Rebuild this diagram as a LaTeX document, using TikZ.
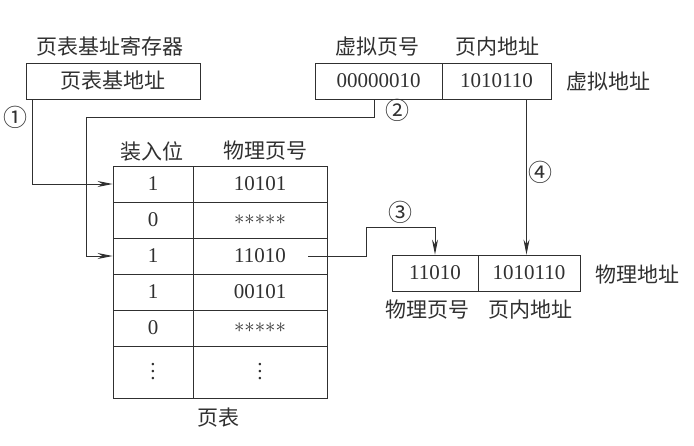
\documentclass[tikz,border=0pt]{standalone}
\usepackage{fontspec}
\setmainfont{Liberation Serif}
\newfontfamily\cjk{Noto Sans CJK SC}
\usetikzlibrary{arrows.meta,positioning}
\newcommand{\maskstars}{\ensuremath{{\ast}{\ast}{\ast}{\ast}{\ast}}}
\newcommand{\moredots}{\vbox{\baselineskip=7pt\lineskiplimit=0pt\hbox{.}\hbox{.}\hbox{.}}}
\definecolor{ptink}{HTML}{303030}
\tikzset{
  cellBox/.style={draw=ptink, line width=0.9pt, minimum height=36pt, inner sep=0pt, text=ptink, font=\fontsize{21}{25}\selectfont},
  capLabel/.style={font=\cjk\fontsize{21}{25}\selectfont, inner sep=1pt, text=ptink},
  stepMark/.style={font=\cjk\fontsize{24}{26}\selectfont, inner sep=0pt, text=ptink},
  flowArrow/.style={-{Stealth[length=15pt,width=6pt]}, line width=0.9pt, draw=ptink},
  flowLine/.style={line width=0.9pt, draw=ptink}
}

\begin{document}
\begin{tikzpicture}[x=1pt,y=-1pt]
  \useasboundingbox (0,0) rectangle (694,445);
  % registers and addresses
  \node[capLabel] (regCap) at (110,46) {页表基址寄存器};
  \node[cellBox, minimum width=174pt] (baseReg) at (113,81) {\cjk 页表基地址};
  \node[cellBox, minimum width=127pt] (vpn) at (378.5,81) {00000010};
  \node[cellBox, minimum width=109pt] (voff) at (496.5,81) {1010110};
  \node[capLabel] (vpnCap) at (377,47) {虚拟页号};
  \node[capLabel] (voffCap) at (497,47) {页内地址};
  \node[capLabel] (vaddrCap) at (608,82) {虚拟地址};
  % page table
  \node[capLabel] (bitHead) at (152,151) {装入位};
  \node[capLabel] (ppnHead) at (265,151) {物理页号};
  \foreach \r/\y/\h/\b/\p in {1/184/36/1/10101, 2/220/36/0/\maskstars, 3/256/36/1/11010, 4/292/36/1/00101, 5/328/36/0/\maskstars, 6/372/52/\moredots/\moredots}{
    \node[cellBox, minimum width=80pt, minimum height=\h pt] (bit\r) at (153,\y) {\b};
    \node[cellBox, minimum width=134pt, minimum height=\h pt] (ppn\r) at (260,\y) {\p};
  }
  \node[capLabel] (tableCap) at (218,418) {页表};
  % physical address
  \node[cellBox, minimum width=86pt] (pfn) at (435,273) {11010};
  \node[cellBox, minimum width=102pt] (poff) at (529,273) {1010110};
  \node[capLabel] (paddrCap) at (637,275) {物理地址};
  \node[capLabel] (pfnCap) at (427,310) {物理页号};
  \node[capLabel] (poffCap) at (530,310) {页内地址};
  % connectors
  \coordinate (bendB) at (86,117);
  \coordinate (bendC) at (366,227);
  \draw[flowArrow] ([xshift=7pt]baseReg.south west) |- (bit1.west);
  \draw[flowArrow] ([xshift=-4pt]vpn.south) |- (bendB) |- (bit3.west);
  \draw[flowArrow] ([xshift=48pt]ppn3.center) -| (bendC) -| (pfn.north);
  \draw[flowArrow] ([xshift=30pt]voff.south) -- ([xshift=30pt]voff.south |- poff.north);
  \node[stepMark] (stepA) at (16,117) {①};
  \node[stepMark] (stepB) at (397,110) {②};
  \node[stepMark] (stepC) at (400,212) {③};
  \node[stepMark] (stepD) at (540,172) {④};
\end{tikzpicture}
\end{document}
